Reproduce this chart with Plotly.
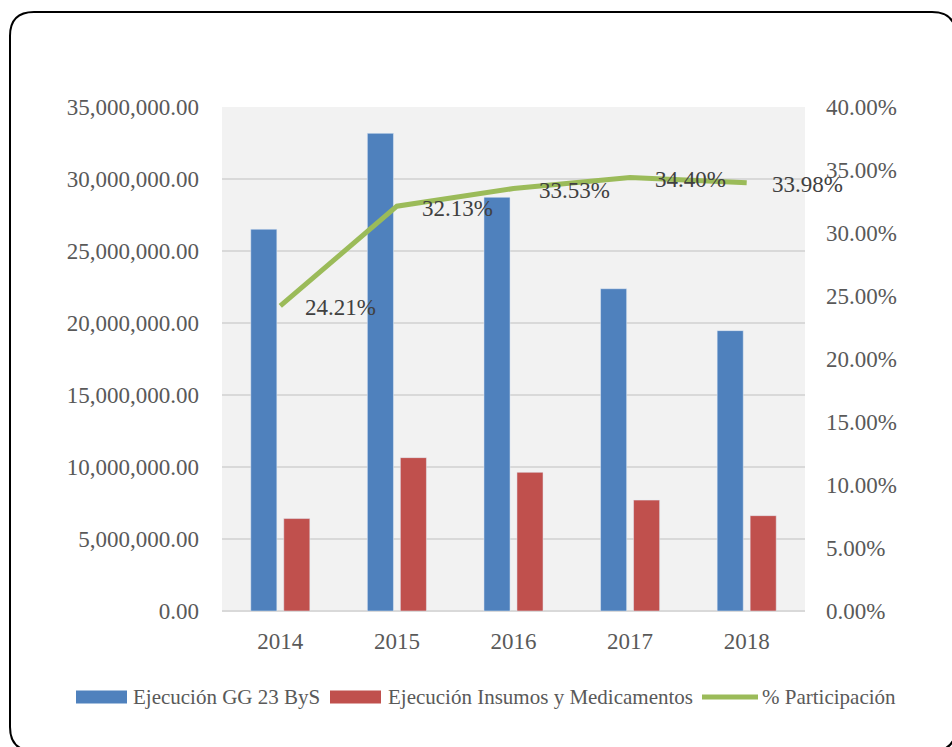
import plotly.graph_objects as go

# Chart data
years = ["2014", "2015", "2016", "2017", "2018"]
ejecucion_gg23 = [26510000, 33170000, 28730000, 22380000, 19470000]
ejecucion_insumos = [6420000, 10650000, 9630000, 7700000, 6620000]
participacion = [0.2421, 0.3213, 0.3353, 0.3440, 0.3398]

series_names = ["Ejecución GG 23 ByS", "Ejecución Insumos y Medicamentos", "% Participación"]
colors = ["#4F81BD", "#C0504D", "#9BBB59"]

W, H = 952, 747
L, R, T, B = 222, 805, 107, 611  # plot area in pixels

FONT = "Liberation Serif, Times New Roman, serif"


def px(x):
    return (x - L) / (R - L)


def py(y):
    return (B - y) / (B - T)


fig = go.Figure()
fig.add_trace(go.Bar(x=years, y=ejecucion_gg23, name=series_names[0],
                     marker=dict(color=colors[0]), showlegend=False))
fig.add_trace(go.Bar(x=years, y=ejecucion_insumos, name=series_names[1],
                     marker=dict(color=colors[1]), showlegend=False))
fig.add_trace(go.Scatter(x=years, y=participacion, name=series_names[2], yaxis="y2",
                         mode="lines", line=dict(color=colors[2], width=5),
                         showlegend=False))

annotations = []
# value labels next to the line points (x given as category index)
for i, v in enumerate(participacion):
    annotations.append(dict(x=i, y=v, xref="x", yref="y2", text=f"{v:.2%}",
                            showarrow=False, xanchor="left", yanchor="middle",
                            xshift=23, yshift=-2,
                            font=dict(family=FONT, size=23, color="#404040")))

shapes = []
# outer rounded frame
x0, y0, x1, y1, r = 10, 12, 956, 751, 24
frame = (f"M {px(x0)},{py(y0 + r)} L {px(x0)},{py(y1 - r)} "
         f"Q {px(x0)},{py(y1)} {px(x0 + r)},{py(y1)} L {px(x1 - r)},{py(y1)} "
         f"Q {px(x1)},{py(y1)} {px(x1)},{py(y1 - r)} L {px(x1)},{py(y0 + r)} "
         f"Q {px(x1)},{py(y0)} {px(x1 - r)},{py(y0)} L {px(x0 + r)},{py(y0)} "
         f"Q {px(x0)},{py(y0)} {px(x0)},{py(y0 + r)} Z")
shapes.append(dict(type="path", xref="paper", yref="paper", path=frame,
                   line=dict(color="#000000", width=2), fillcolor="rgba(0,0,0,0)",
                   layer="above"))

# legend row
legend_y = 697
items = [(76, 127, 133), (330, 381, 388), (702, 758, 762)]
for i, (sx0, sx1, tx) in enumerate(items):
    if i < 2:
        shapes.append(dict(type="rect", xref="paper", yref="paper",
                           x0=px(sx0), x1=px(sx1), y0=py(legend_y + 6.5), y1=py(legend_y - 6.5),
                           fillcolor=colors[i], line=dict(width=0)))
    else:
        shapes.append(dict(type="line", xref="paper", yref="paper",
                           x0=px(sx0), x1=px(sx1), y0=py(legend_y), y1=py(legend_y),
                           line=dict(color=colors[i], width=5)))
    annotations.append(dict(x=px(tx), y=py(legend_y), xref="paper", yref="paper",
                            text=series_names[i], showarrow=False,
                            xanchor="left", yanchor="middle", xshift=-2,
                            font=dict(family=FONT, size=21, color="#595959")))

tick_font = dict(family=FONT, size=23, color="#595959")

fig.update_layout(
    width=W, height=H,
    margin=dict(l=L, r=W - R, t=T, b=H - B, pad=0),
    paper_bgcolor="#FFFFFF",
    plot_bgcolor="#F2F2F2",
    barmode="group",
    bargap=0.434,
    bargroupgap=0.21,
    showlegend=False,
    font=dict(family=FONT, color="#595959"),
    xaxis=dict(type="category", categoryorder="array", categoryarray=years,
               range=[-0.5, len(years) - 0.5], autorange=False,
               showgrid=False, showline=False, ticks="",
               tickfont=tick_font, ticklabelstandoff=14),
    yaxis=dict(range=[0, 35000000], autorange=False, dtick=5000000, tickformat=",.2f",
               showgrid=True, gridcolor="#D9D9D9", gridwidth=1.5,
               zeroline=True, zerolinecolor="#D9D9D9", zerolinewidth=1.5,
               showline=False, ticks="", tickfont=tick_font, ticklabelstandoff=22),
    yaxis2=dict(range=[0, 0.40], autorange=False, dtick=0.05, tickformat=".2%",
                overlaying="y", side="right", showgrid=False, zeroline=False,
                showline=False, ticks="", tickfont=tick_font, ticklabelstandoff=20),
    shapes=shapes,
    annotations=annotations,
)

fig.write_html("out.html")
